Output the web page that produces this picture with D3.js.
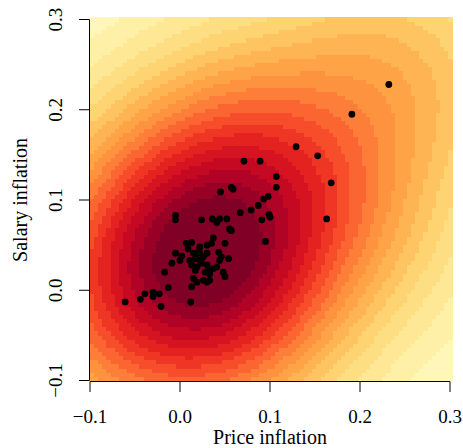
<!DOCTYPE html>
<html>
<head>
<meta charset="utf-8">
<script src="https://cdn.jsdelivr.net/npm/d3@7"></script>
<style>
  body { margin: 0; background: #fff; }
</style>
</head>
<body>
<svg id="chart" width="463" height="448" font-family="'Liberation Serif', 'Times New Roman', Times, serif"></svg>
<script>
var priceInflation = [0.232, 0.191, 0.129, 0.153, 0.071, 0.089, 0.107, 0.107, 0.168, 0.045,
  0.057, 0.059, 0.098, 0.093, 0.087, 0.079, 0.067, -0.005, -0.005, 0.024,
  0.036, 0.041, 0.044, 0.052, 0.055, 0.057, 0.091, 0.099, 0.100, 0.095,
  0.163, 0.037, 0.007, 0.013, 0.009, 0.022, 0.030, 0.035, 0.050, 0.015,
  0.022, 0.017, 0.011, 0.026, 0.030, 0.043, 0.046, 0.054, 0.044, -0.005,
  0.000, -0.009, 0.013, 0.019, 0.024, 0.030, 0.033, 0.037, 0.028, 0.033,
  0.041, 0.048, 0.050, -0.017, 0.015, 0.019, 0.013, 0.026, 0.030, 0.033,
  -0.013, 0.012, -0.030, -0.039, -0.030, -0.023, -0.044, -0.061, -0.021, 0.002,
  0.017, 0.022, 0.020]
var salaryInflation = [0.228, 0.195, 0.159, 0.149, 0.143, 0.143, 0.126, 0.114, 0.119, 0.109,
  0.114, 0.112, 0.104, 0.101, 0.094, 0.089, 0.086, 0.083, 0.078, 0.078,
  0.079, 0.075, 0.079, 0.079, 0.068, 0.066, 0.078, 0.084, 0.081, 0.054,
  0.079, 0.058, 0.052, 0.053, 0.046, 0.048, 0.050, 0.052, 0.052, 0.041,
  0.041, 0.035, 0.033, 0.037, 0.041, 0.042, 0.037, 0.035, 0.033, 0.041,
  0.033, 0.030, 0.028, 0.026, 0.030, 0.028, 0.022, 0.024, 0.020, 0.018,
  0.026, 0.020, 0.015, 0.020, 0.013, 0.009, 0.004, 0.011, 0.009, 0.011,
  0.003, -0.013, -0.002, -0.004, -0.007, -0.004, -0.010, -0.013, -0.018, 0.038,
  0.022, 0.033, 0.042]
var xTicks = [-0.1, 0.0, 0.1, 0.2, 0.3]
var yTicks = [-0.1, 0.0, 0.1, 0.2, 0.3]
var xLabel = 'Price inflation'
var yLabel = 'Salary inflation'

var points = priceInflation.map(function (p, i) { return { x: p, y: salaryInflation[i] } })

var svg = d3.select('#chart')
var x = d3.scaleLinear().domain([-0.1, 0.3]).range([90, 450])
var y = d3.scaleLinear().domain([-0.1, 0.3]).range([380.5, 19.5])
var fmt = d3.format('.1f')

// smoothed density of the points on a grid, like smoothScatter
var lo = -0.1
var hi = 0.3025
var nx = 88
var ny = 88
var hx = 0.06
var hy = 0.06
var step = (hi - lo) / nx
var cells = []
for (var j = 0; j < ny; j++) {
  for (var i = 0; i < nx; i++) {
    var cx = lo + (i + 0.5) * step
    var cy = lo + (j + 0.5) * step
    var d = 0
    points.forEach(function (p) {
      var dx = (cx - p.x) / hx
      var dy = (cy - p.y) / hy
      d += Math.exp(-0.5 * (dx * dx + dy * dy))
    })
    cells.push({ i: i, j: j, d: d })
  }
}
var dmax = d3.max(cells, function (c) { return c.d })
cells.forEach(function (c) { c.t = Math.min(1, 1.05 * Math.pow(c.d / dmax, 0.275)) })

var color = d3.scaleQuantize()
  .domain([0, 1])
  .range(d3.quantize(d3.interpolateYlOrRd, 20))

svg.append('g')
  .selectAll('rect')
  .data(cells)
  .enter()
  .append('rect')
  .attr('x', function (c) { return x(lo + c.i * step) })
  .attr('y', function (c) { return y(lo + (c.j + 1) * step) })
  .attr('width', x(lo + step) - x(lo) + 0.5)
  .attr('height', y(lo) - y(lo + step) + 0.5)
  .attr('fill', function (c) { return color(c.t) })
  .attr('shape-rendering', 'crispEdges')

svg.append('g')
  .selectAll('circle')
  .data(points)
  .enter()
  .append('circle')
  .attr('cx', function (p) { return x(p.x) })
  .attr('cy', function (p) { return y(p.y) })
  .attr('r', 3.4)
  .attr('fill', '#000')

// axes, R style
var gx = svg.append('g')
gx.append('line')
  .attr('x1', x(-0.1)).attr('x2', x(0.3))
  .attr('y1', 381.5).attr('y2', 381.5)
  .attr('stroke', '#000')
gx.selectAll('.tk')
  .data(xTicks)
  .enter()
  .append('line')
  .attr('x1', function (d) { return x(d) }).attr('x2', function (d) { return x(d) })
  .attr('y1', 381.5).attr('y2', 392)
  .attr('stroke', '#000')
gx.selectAll('text')
  .data(xTicks)
  .enter()
  .append('text')
  .attr('x', function (d) { return x(d) })
  .attr('y', 423)
  .attr('text-anchor', 'middle')
  .attr('font-size', 19)
  .text(function (d) { return fmt(d) })
svg.append('text')
  .attr('x', 270).attr('y', 444)
  .attr('text-anchor', 'middle')
  .attr('font-size', 20)
  .text(xLabel)

var gy = svg.append('g')
gy.append('line')
  .attr('x1', 89.5).attr('x2', 89.5)
  .attr('y1', y(-0.1)).attr('y2', y(0.3))
  .attr('stroke', '#000')
gy.selectAll('.tk')
  .data(yTicks)
  .enter()
  .append('line')
  .attr('x1', 79).attr('x2', 89.5)
  .attr('y1', function (d) { return y(d) }).attr('y2', function (d) { return y(d) })
  .attr('stroke', '#000')
gy.selectAll('text')
  .data(yTicks)
  .enter()
  .append('text')
  .attr('transform', function (d) { return 'translate(62,' + y(d) + ') rotate(-90)' })
  .attr('text-anchor', 'middle')
  .attr('font-size', 19)
  .text(function (d) { return fmt(d) })
svg.append('text')
  .attr('transform', 'translate(27,200) rotate(-90)')
  .attr('text-anchor', 'middle')
  .attr('font-size', 20)
  .text(yLabel)
</script>
</body>
</html>
